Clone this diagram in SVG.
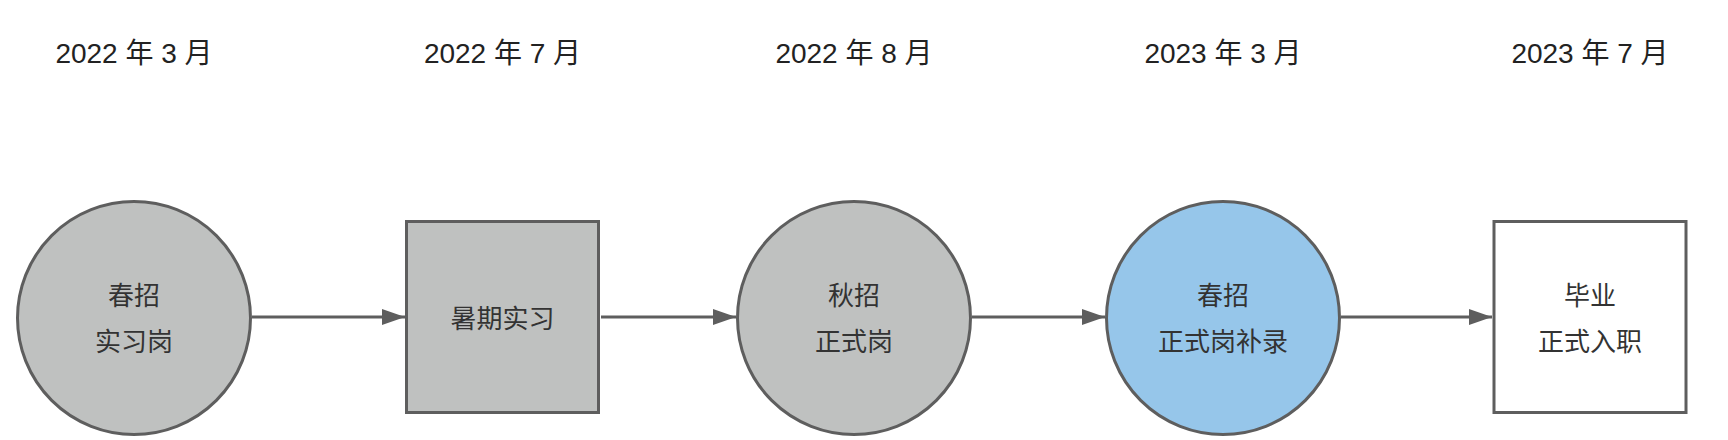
<svg xmlns="http://www.w3.org/2000/svg" width="1728" height="440" viewBox="0 0 1728 440">
<style>
.lbl{font-family:"Liberation Sans","Noto Sans CJK SC",sans-serif;font-size:28px;fill:#222;text-anchor:middle}
.txt{font-family:"Noto Sans CJK SC",sans-serif;font-size:26px;fill:#333;text-anchor:middle}
.node{stroke:#5e5e5e;stroke-width:3}
.gray{fill:#bfc1c0}
.blue{fill:#96c6ea}
.white{fill:#ffffff}
.edge{stroke:#5e5e5e;stroke-width:3;fill:none;marker-end:url(#arr)}
</style>
<defs>
<marker id="arr" markerUnits="userSpaceOnUse" markerWidth="24" markerHeight="18" refX="23" refY="8" orient="auto">
<path d="M0,0 L23,8 L0,16 z" fill="#5e5e5e"/>
</marker>
</defs>
<rect width="1728" height="440" fill="#ffffff"/>
<g id="labels">
<text class="lbl" x="134" y="63">2022 年 3 月</text>
<text class="lbl" x="502.5" y="63">2022 年 7 月</text>
<text class="lbl" x="854" y="63">2022 年 8 月</text>
<text class="lbl" x="1223" y="63">2023 年 3 月</text>
<text class="lbl" x="1590" y="63">2023 年 7 月</text>
</g>
<g id="connectors">
<line class="edge" x1="252" y1="317" x2="405" y2="317"/>
<line class="edge" x1="601" y1="317" x2="736" y2="317"/>
<line class="edge" x1="972" y1="317" x2="1105" y2="317"/>
<line class="edge" x1="1341" y1="317" x2="1492" y2="317"/>
</g>
<g id="n1">
<circle class="node gray" cx="134" cy="318" r="116.5"/>
<text class="txt" x="134" y="305">春招</text>
<text class="txt" x="134" y="351">实习岗</text>
</g>
<g id="n2">
<rect class="node gray" x="406.5" y="221.5" width="192" height="191"/>
<text class="txt" x="502.5" y="328">暑期实习</text>
</g>
<g id="n3">
<circle class="node gray" cx="854" cy="318" r="116.5"/>
<text class="txt" x="854" y="305">秋招</text>
<text class="txt" x="854" y="351">正式岗</text>
</g>
<g id="n4">
<circle class="node blue" cx="1223" cy="318" r="116.5"/>
<text class="txt" x="1223" y="305">春招</text>
<text class="txt" x="1223" y="351">正式岗补录</text>
</g>
<g id="n5">
<rect class="node white" x="1494" y="221.5" width="192" height="191"/>
<text class="txt" x="1590" y="305">毕业</text>
<text class="txt" x="1590" y="351">正式入职</text>
</g>
</svg>
